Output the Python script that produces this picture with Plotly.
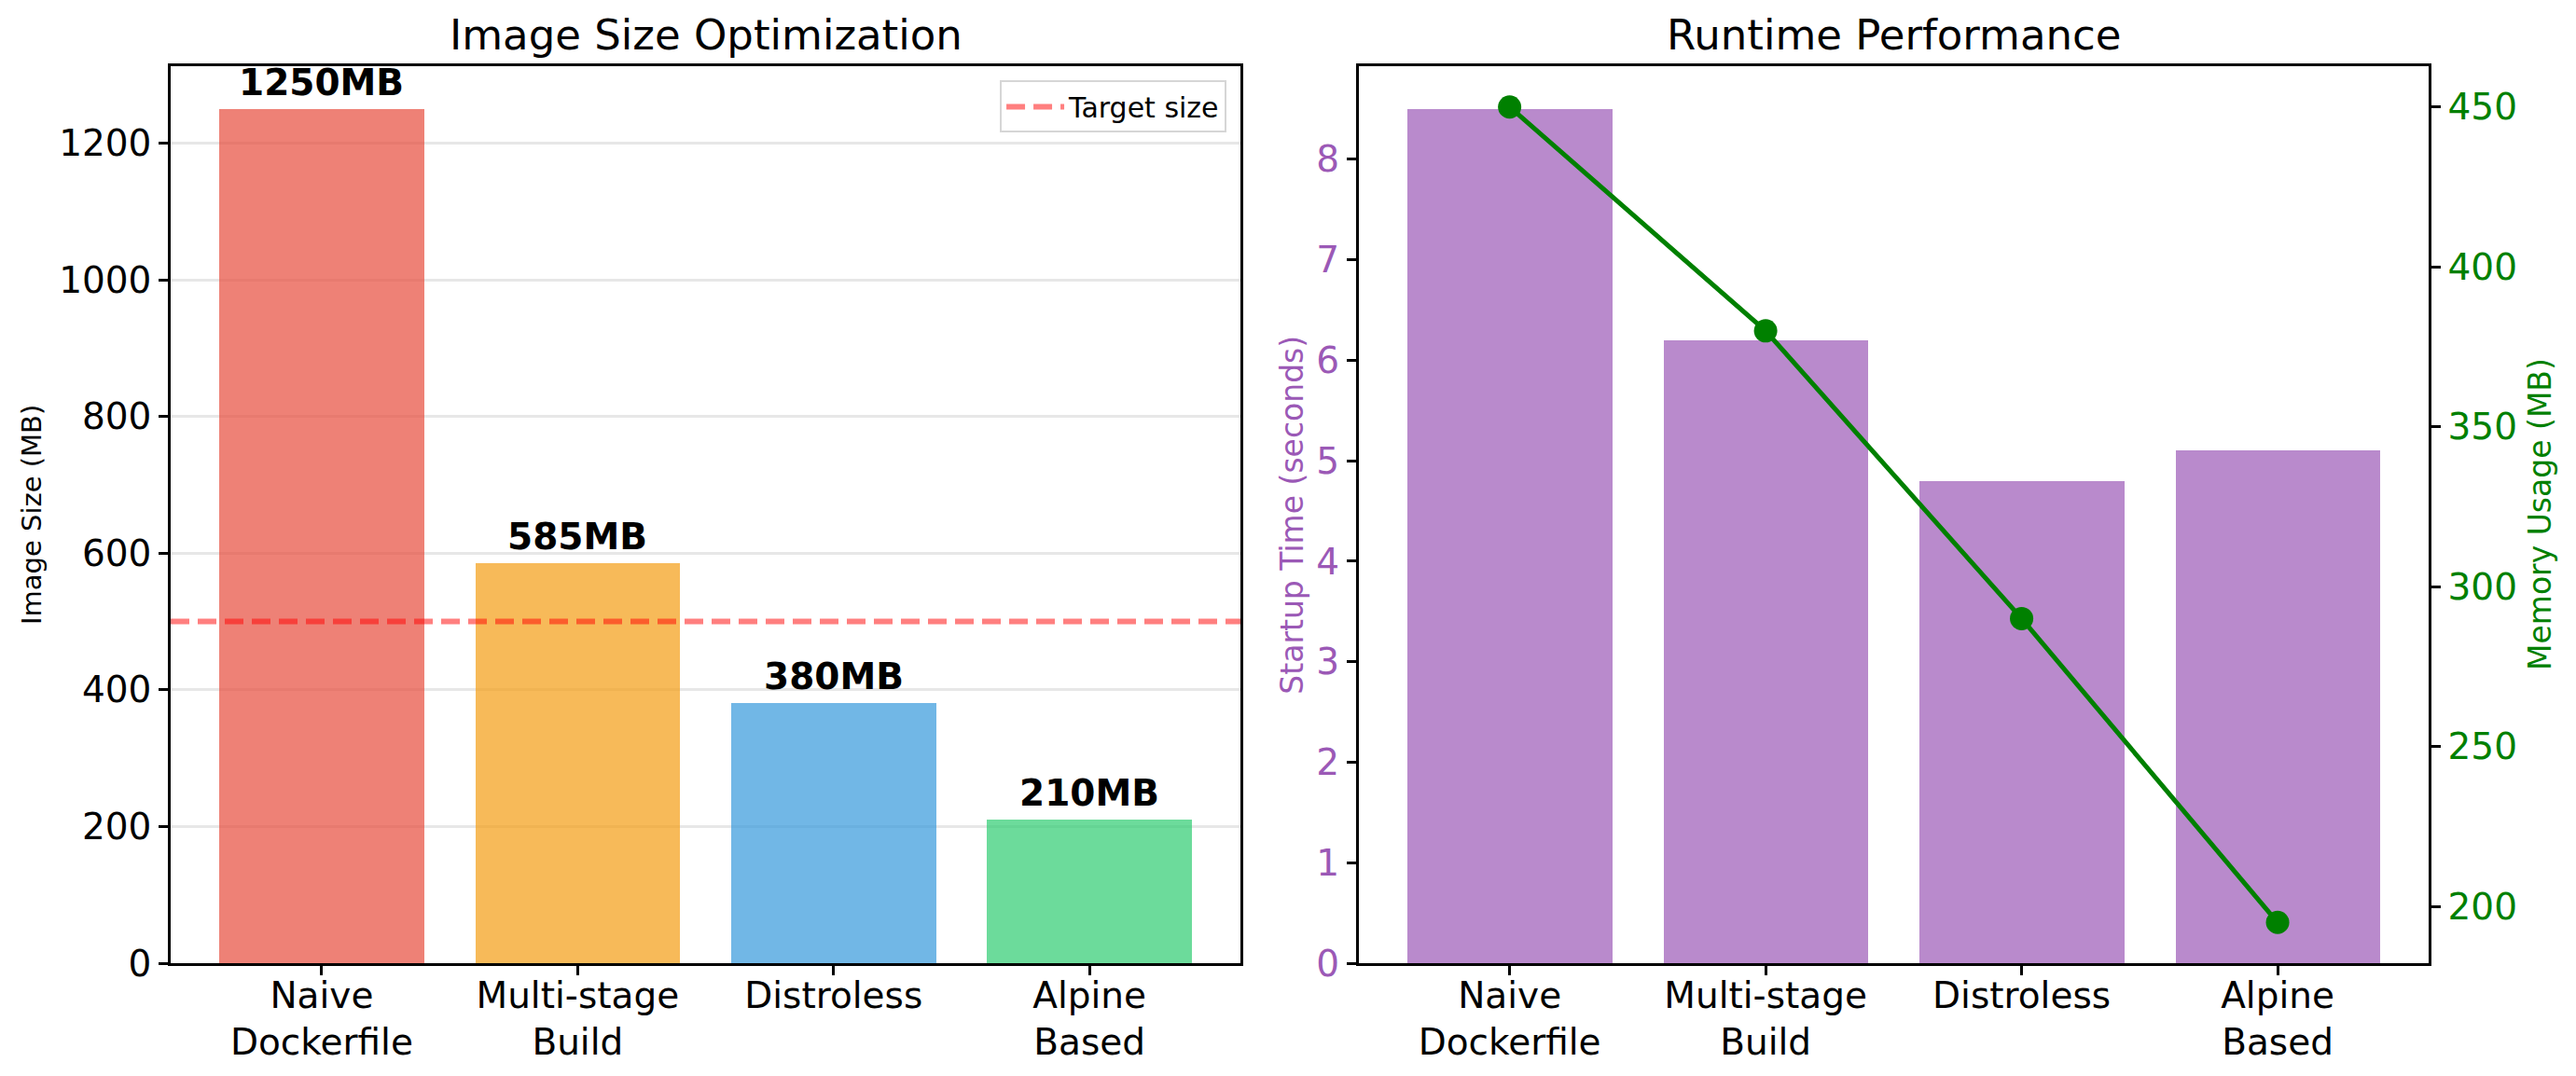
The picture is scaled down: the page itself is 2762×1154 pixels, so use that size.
import plotly.graph_objects as go

# ---------------- data ----------------
categories = ["Naive<br>Dockerfile", "Multi-stage<br>Build", "Distroless", "Alpine<br>Based"]
image_size_mb = [1250, 585, 380, 210]
target_size_mb = 500
startup_time_s = [8.5, 6.2, 4.8, 5.1]
memory_usage_mb = [450, 380, 290, 195]

size_ticks = [0, 200, 400, 600, 800, 1000, 1200]
startup_ticks = [0, 1, 2, 3, 4, 5, 6, 7, 8]
memory_ticks = [200, 250, 300, 350, 400, 450]

bar_colors = ["rgba(231,76,60,0.7)", "rgba(243,156,18,0.7)",
              "rgba(52,152,219,0.7)", "rgba(46,204,113,0.7)"]
purple_bar = "rgba(155,89,182,0.7)"
purple = "#9b59b6"
green = "#008000"

FONT = "DejaVu Sans"
xpos = list(range(len(categories)))
xr = [-0.59, len(categories) - 1 + 0.59]

fig = go.Figure()

# left: image size bars
fig.add_trace(go.Bar(x=xpos, y=image_size_mb, marker=dict(color=bar_colors, line=dict(width=0)),
                     width=0.8, showlegend=False, xaxis="x", yaxis="y"))
# target line
fig.add_trace(go.Scatter(x=xr, y=[target_size_mb, target_size_mb], mode="lines",
                         line=dict(color="rgba(255,0,0,0.5)", width=6, dash="20px,9px"),
                         name="Target size", xaxis="x", yaxis="y", showlegend=True))

# right: startup bars + memory line
fig.add_trace(go.Bar(x=xpos, y=startup_time_s, marker=dict(color=purple_bar, line=dict(width=0)),
                     width=0.8, showlegend=False, xaxis="x2", yaxis="y2"))
fig.add_trace(go.Scatter(x=xpos, y=memory_usage_mb, mode="lines+markers",
                         line=dict(color=green, width=5), marker=dict(color=green, size=25),
                         showlegend=False, xaxis="x2", yaxis="y3"))

axis_common = dict(showline=True, linecolor="black", linewidth=2.5, ticks="outside",
                   ticklen=10, tickwidth=2.5, tickcolor="black", zeroline=False,
                   automargin=False,
                   tickfont=dict(family=FONT, size=39, color="black"))

D1 = [0, 0.4738]
D2 = [0.5261, 1]

fig.update_layout(
    width=2762, height=1154,
    margin=dict(l=183, r=158, t=71, b=121, pad=0, autoexpand=False),
    paper_bgcolor="white", plot_bgcolor="white",
    font=dict(family=FONT, color="black"),
    bargap=0,
    xaxis=dict(domain=D1, range=xr, tickvals=xpos, ticktext=categories, mirror=True,
               showgrid=False, anchor="y", ticklabelstandoff=-12, **axis_common),
    yaxis=dict(domain=[0, 1], range=[0, 1312.5], tickvals=size_ticks, mirror=True,
               showgrid=True, gridcolor="rgba(176,176,176,0.3)", gridwidth=2.5,
               anchor="x", **axis_common),
    xaxis2=dict(domain=D2, range=xr, tickvals=xpos, ticktext=categories, mirror=True,
                showgrid=False, anchor="y2", ticklabelstandoff=-12, **axis_common),
    yaxis2=dict(domain=[0, 1], range=[0, 8.925], tickvals=startup_ticks, showgrid=False,
                anchor="x2", **{**axis_common, "tickfont": dict(family=FONT, size=39, color=purple)}),
    yaxis3=dict(domain=[0, 1], range=[182.25, 462.75], tickvals=memory_ticks, showgrid=False,
                overlaying="y2", side="right", anchor="x2",
                **{**axis_common, "tickfont": dict(family=FONT, size=39, color=green)}),
    legend=dict(x=0.4676, xanchor="right", y=0.984, yanchor="top", itemwidth=62,
                bgcolor="rgba(255,255,255,0.8)", bordercolor="#d6d6d6", borderwidth=2,
                font=dict(family=FONT, size=30, color="black")),
)

annotations = []
# subplot titles
annotations.append(dict(text="Image Size Optimization", xref="paper", yref="paper",
                        x=(D1[0] + D1[1]) / 2, y=1, xanchor="center", yanchor="bottom", yshift=5,
                        showarrow=False, font=dict(family=FONT, size=45, color="black")))
annotations.append(dict(text="Runtime Performance", xref="paper", yref="paper",
                        x=(D2[0] + D2[1]) / 2, y=1, xanchor="center", yanchor="bottom", yshift=5,
                        showarrow=False, font=dict(family=FONT, size=45, color="black")))
# axis titles
annotations.append(dict(text="Image Size (MB)", xref="paper", yref="paper", x=D1[0], y=0.5,
                        xshift=-149, textangle=-90, xanchor="center", yanchor="middle",
                        showarrow=False, font=dict(family=FONT, size=29, color="black")))
annotations.append(dict(text="Startup Time (seconds)", xref="paper", yref="paper", x=D2[0], y=0.5,
                        xshift=-72, textangle=-90, xanchor="center", yanchor="middle",
                        showarrow=False, font=dict(family=FONT, size=33, color=purple)))
annotations.append(dict(text="Memory Usage (MB)", xref="paper", yref="paper", x=D2[1], y=0.5,
                        xshift=119, textangle=-90, xanchor="center", yanchor="middle",
                        showarrow=False, font=dict(family=FONT, size=33, color=green)))
# bar value labels
for xi, v in zip(xpos, image_size_mb):
    annotations.append(dict(text=f"<b>{v}MB</b>", xref="x", yref="y", x=xi, y=v,
                            xanchor="center", yanchor="bottom", yshift=4, showarrow=False,
                            font=dict(family=FONT, size=39, color="black")))
fig.update_layout(annotations=annotations)

fig.write_html("out.html", config={"displayModeBar": False},
               post_script="document.body.style.margin='0';")
